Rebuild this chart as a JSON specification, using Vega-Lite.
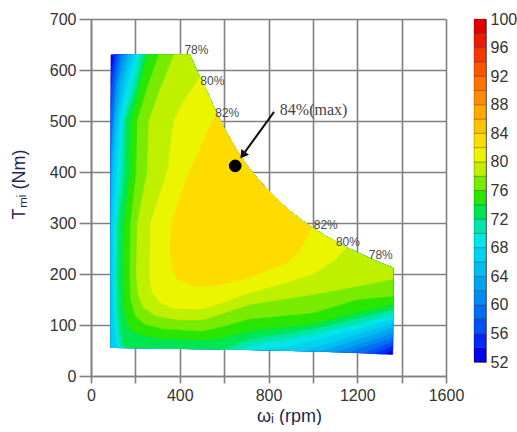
{
"$schema":"https://vega.github.io/schema/vega-lite/v6.json",
"padding":{"left":10,"top":10,"right":0,"bottom":0},
"spacing":28,
"bounds":"flush",
"config":{"view":{"stroke":null},"font":"Liberation Sans"},
"hconcat":[
{
"width":355,"height":357,
"encoding":{
"x":{"field":"x","type":"quantitative","scale":{"domain":[0,1600],"nice":false,"zero":false},
"axis":{"values":[0,200,400,600,800,1000,1200,1400,1600],"format":"d","labelExpr":"datum.value % 400 == 0 ? datum.label : ''","grid":true,"gridColor":"#808080","gridWidth":1.6,"domainColor":"#808080","domainWidth":1.6,"tickColor":"#808080","tickWidth":1.6,"tickSize":7,"labelFontSize":16,"labelColor":"#333333","labelFlush":false,"labelOverlap":false,"labelPadding":4,"title":"ωᵢ  (rpm)","titleX":198,"titleFontSize":18,"titleFontWeight":"normal","titleColor":"#1c2752","titlePadding":4}},
"y":{"field":"y","type":"quantitative","scale":{"domain":[0,700],"nice":false,"zero":false},
"axis":{"values":[0,100,200,300,400,500,600,700],"format":"d","grid":true,"gridColor":"#808080","gridWidth":1.6,"domainColor":"#808080","domainWidth":1.6,"tickColor":"#808080","tickWidth":1.6,"tickSize":12,"labelFontSize":16,"labelColor":"#333333","labelFlush":false,"labelPadding":3,"title":"Tₘᵢ  (Nm)","titleY":165,"titleFontSize":18,"titleFontWeight":"normal","titleColor":"#1c2752","titlePadding":21}}
},
"layer":[
{
"data":{"values":[
{"l":52,"x":90,"y":630},{"l":52,"x":445,"y":630},{"l":52,"x":480,"y":595},{"l":52,"x":520,"y":560},{"l":52,"x":560,"y":520},{"l":52,"x":600,"y":485},{"l":52,"x":650,"y":447},{"l":52,"x":700,"y":414},{"l":52,"x":750,"y":387},{"l":52,"x":800,"y":363},{"l":52,"x":850,"y":341},{"l":52,"x":900,"y":322},{"l":52,"x":950,"y":305},{"l":52,"x":1000,"y":290},{"l":52,"x":1050,"y":276},{"l":52,"x":1100,"y":264},{"l":52,"x":1150,"y":252},{"l":52,"x":1200,"y":242},{"l":52,"x":1250,"y":232},{"l":52,"x":1300,"y":222},{"l":52,"x":1360,"y":212},{"l":52,"x":1360,"y":42},{"l":52,"x":1200,"y":46},{"l":52,"x":1000,"y":49},{"l":52,"x":700,"y":52},{"l":52,"x":90,"y":56},

{"l":54,"x":102,"y":630},{"l":54,"x":445,"y":630},{"l":54,"x":480,"y":595},{"l":54,"x":520,"y":560},{"l":54,"x":560,"y":520},{"l":54,"x":600,"y":485},{"l":54,"x":650,"y":447},{"l":54,"x":700,"y":414},{"l":54,"x":750,"y":387},{"l":54,"x":800,"y":363},{"l":54,"x":850,"y":341},{"l":54,"x":900,"y":322},{"l":54,"x":950,"y":305},{"l":54,"x":1000,"y":290},{"l":54,"x":1050,"y":276},{"l":54,"x":1100,"y":264},{"l":54,"x":1150,"y":252},{"l":54,"x":1200,"y":242},{"l":54,"x":1250,"y":232},{"l":54,"x":1300,"y":222},{"l":54,"x":1360,"y":212},{"l":54,"x":1360,"y":52},{"l":54,"x":1320,"y":43},{"l":54,"x":1200,"y":46},{"l":54,"x":1000,"y":49},{"l":54,"x":700,"y":52},{"l":54,"x":90,"y":56},{"l":54,"x":90,"y":590},

{"l":56,"x":114,"y":630},{"l":56,"x":445,"y":630},{"l":56,"x":480,"y":595},{"l":56,"x":520,"y":560},{"l":56,"x":560,"y":520},{"l":56,"x":600,"y":485},{"l":56,"x":650,"y":447},{"l":56,"x":700,"y":414},{"l":56,"x":750,"y":387},{"l":56,"x":800,"y":363},{"l":56,"x":850,"y":341},{"l":56,"x":900,"y":322},{"l":56,"x":950,"y":305},{"l":56,"x":1000,"y":290},{"l":56,"x":1050,"y":276},{"l":56,"x":1100,"y":264},{"l":56,"x":1150,"y":252},{"l":56,"x":1200,"y":242},{"l":56,"x":1250,"y":232},{"l":56,"x":1300,"y":222},{"l":56,"x":1360,"y":212},{"l":56,"x":1360,"y":60},{"l":56,"x":1320,"y":52},{"l":56,"x":1275,"y":44},{"l":56,"x":1200,"y":46},{"l":56,"x":1000,"y":49},{"l":56,"x":700,"y":52},{"l":56,"x":90,"y":56},{"l":56,"x":90,"y":550},{"l":56,"x":98,"y":590},

{"l":58,"x":126,"y":630},{"l":58,"x":445,"y":630},{"l":58,"x":480,"y":595},{"l":58,"x":520,"y":560},{"l":58,"x":560,"y":520},{"l":58,"x":600,"y":485},{"l":58,"x":650,"y":447},{"l":58,"x":700,"y":414},{"l":58,"x":750,"y":387},{"l":58,"x":800,"y":363},{"l":58,"x":850,"y":341},{"l":58,"x":900,"y":322},{"l":58,"x":950,"y":305},{"l":58,"x":1000,"y":290},{"l":58,"x":1050,"y":276},{"l":58,"x":1100,"y":264},{"l":58,"x":1150,"y":252},{"l":58,"x":1200,"y":242},{"l":58,"x":1250,"y":232},{"l":58,"x":1300,"y":222},{"l":58,"x":1360,"y":212},{"l":58,"x":1360,"y":68},{"l":58,"x":1290,"y":56},{"l":58,"x":1225,"y":45},{"l":58,"x":1200,"y":46},{"l":58,"x":1000,"y":49},{"l":58,"x":700,"y":52},{"l":58,"x":90,"y":56},{"l":58,"x":90,"y":500},{"l":58,"x":95,"y":530},{"l":58,"x":105,"y":580},

{"l":60,"x":138,"y":630},{"l":60,"x":445,"y":630},{"l":60,"x":480,"y":595},{"l":60,"x":520,"y":560},{"l":60,"x":560,"y":520},{"l":60,"x":600,"y":485},{"l":60,"x":650,"y":447},{"l":60,"x":700,"y":414},{"l":60,"x":750,"y":387},{"l":60,"x":800,"y":363},{"l":60,"x":850,"y":341},{"l":60,"x":900,"y":322},{"l":60,"x":950,"y":305},{"l":60,"x":1000,"y":290},{"l":60,"x":1050,"y":276},{"l":60,"x":1100,"y":264},{"l":60,"x":1150,"y":252},{"l":60,"x":1200,"y":242},{"l":60,"x":1250,"y":232},{"l":60,"x":1300,"y":222},{"l":60,"x":1360,"y":212},{"l":60,"x":1360,"y":76},{"l":60,"x":1290,"y":65},{"l":60,"x":1200,"y":54},{"l":60,"x":1170,"y":46.5},{"l":60,"x":1000,"y":49},{"l":60,"x":700,"y":52},{"l":60,"x":90,"y":56},{"l":60,"x":90,"y":450},{"l":60,"x":100,"y":500},{"l":60,"x":112,"y":570},

{"l":62,"x":152,"y":630},{"l":62,"x":445,"y":630},{"l":62,"x":480,"y":595},{"l":62,"x":520,"y":560},{"l":62,"x":560,"y":520},{"l":62,"x":600,"y":485},{"l":62,"x":650,"y":447},{"l":62,"x":700,"y":414},{"l":62,"x":750,"y":387},{"l":62,"x":800,"y":363},{"l":62,"x":850,"y":341},{"l":62,"x":900,"y":322},{"l":62,"x":950,"y":305},{"l":62,"x":1000,"y":290},{"l":62,"x":1050,"y":276},{"l":62,"x":1100,"y":264},{"l":62,"x":1150,"y":252},{"l":62,"x":1200,"y":242},{"l":62,"x":1250,"y":232},{"l":62,"x":1300,"y":222},{"l":62,"x":1360,"y":212},{"l":62,"x":1360,"y":85},{"l":62,"x":1290,"y":74},{"l":62,"x":1200,"y":62},{"l":62,"x":1100,"y":47.5},{"l":62,"x":1000,"y":49},{"l":62,"x":700,"y":52},{"l":62,"x":90,"y":56},{"l":62,"x":90,"y":390},{"l":62,"x":93,"y":430},{"l":62,"x":102,"y":500},{"l":62,"x":120,"y":570},

{"l":64,"x":168,"y":630},{"l":64,"x":445,"y":630},{"l":64,"x":480,"y":595},{"l":64,"x":520,"y":560},{"l":64,"x":560,"y":520},{"l":64,"x":600,"y":485},{"l":64,"x":650,"y":447},{"l":64,"x":700,"y":414},{"l":64,"x":750,"y":387},{"l":64,"x":800,"y":363},{"l":64,"x":850,"y":341},{"l":64,"x":900,"y":322},{"l":64,"x":950,"y":305},{"l":64,"x":1000,"y":290},{"l":64,"x":1050,"y":276},{"l":64,"x":1100,"y":264},{"l":64,"x":1150,"y":252},{"l":64,"x":1200,"y":242},{"l":64,"x":1250,"y":232},{"l":64,"x":1300,"y":222},{"l":64,"x":1360,"y":212},{"l":64,"x":1360,"y":95},{"l":64,"x":1290,"y":84},{"l":64,"x":1200,"y":72},{"l":64,"x":1100,"y":58},{"l":64,"x":1030,"y":48.5},{"l":64,"x":700,"y":52},{"l":64,"x":90,"y":56},{"l":64,"x":90,"y":330},{"l":64,"x":92,"y":360},{"l":64,"x":97,"y":420},{"l":64,"x":111,"y":500},{"l":64,"x":135,"y":570},

{"l":66,"x":185,"y":630},{"l":66,"x":445,"y":630},{"l":66,"x":480,"y":595},{"l":66,"x":520,"y":560},{"l":66,"x":560,"y":520},{"l":66,"x":600,"y":485},{"l":66,"x":650,"y":447},{"l":66,"x":700,"y":414},{"l":66,"x":750,"y":387},{"l":66,"x":800,"y":363},{"l":66,"x":850,"y":341},{"l":66,"x":900,"y":322},{"l":66,"x":950,"y":305},{"l":66,"x":1000,"y":290},{"l":66,"x":1050,"y":276},{"l":66,"x":1100,"y":264},{"l":66,"x":1150,"y":252},{"l":66,"x":1200,"y":242},{"l":66,"x":1250,"y":232},{"l":66,"x":1300,"y":222},{"l":66,"x":1360,"y":212},{"l":66,"x":1360,"y":104},{"l":66,"x":1290,"y":93},{"l":66,"x":1200,"y":82},{"l":66,"x":1100,"y":68},{"l":66,"x":1000,"y":56},{"l":66,"x":950,"y":49.5},{"l":66,"x":700,"y":52},{"l":66,"x":90,"y":56},{"l":66,"x":90,"y":260},{"l":66,"x":93,"y":300},{"l":66,"x":103,"y":400},{"l":66,"x":122,"y":500},{"l":66,"x":148,"y":565},

{"l":68,"x":203,"y":630},{"l":68,"x":160,"y":560},{"l":68,"x":134,"y":500},{"l":68,"x":118,"y":400},{"l":68,"x":105,"y":300},{"l":68,"x":102,"y":200},{"l":68,"x":104,"y":120},{"l":68,"x":110,"y":80},{"l":68,"x":120,"y":56},{"l":68,"x":700,"y":52},{"l":68,"x":760,"y":51.4},{"l":68,"x":900,"y":60},{"l":68,"x":1000,"y":70},{"l":68,"x":1200,"y":92},{"l":68,"x":1360,"y":112},{"l":68,"x":1360,"y":212},{"l":68,"x":1300,"y":222},{"l":68,"x":1250,"y":232},{"l":68,"x":1200,"y":242},{"l":68,"x":1150,"y":252},{"l":68,"x":1100,"y":264},{"l":68,"x":1050,"y":276},{"l":68,"x":1000,"y":290},{"l":68,"x":950,"y":305},{"l":68,"x":900,"y":322},{"l":68,"x":850,"y":341},{"l":68,"x":800,"y":363},{"l":68,"x":750,"y":387},{"l":68,"x":700,"y":414},{"l":68,"x":650,"y":447},{"l":68,"x":600,"y":485},{"l":68,"x":560,"y":520},{"l":68,"x":520,"y":560},{"l":68,"x":480,"y":595},{"l":68,"x":445,"y":630},

{"l":70,"x":220,"y":630},{"l":70,"x":180,"y":560},{"l":70,"x":145,"y":500},{"l":70,"x":135,"y":400},{"l":70,"x":115,"y":300},{"l":70,"x":112,"y":200},{"l":70,"x":115,"y":125},{"l":70,"x":122,"y":85},{"l":70,"x":135,"y":56},{"l":70,"x":680,"y":52.1},{"l":70,"x":712,"y":60},{"l":70,"x":850,"y":70},{"l":70,"x":1000,"y":82},{"l":70,"x":1200,"y":102},{"l":70,"x":1360,"y":120},{"l":70,"x":1360,"y":212},{"l":70,"x":1300,"y":222},{"l":70,"x":1250,"y":232},{"l":70,"x":1200,"y":242},{"l":70,"x":1150,"y":252},{"l":70,"x":1100,"y":264},{"l":70,"x":1050,"y":276},{"l":70,"x":1000,"y":290},{"l":70,"x":950,"y":305},{"l":70,"x":900,"y":322},{"l":70,"x":850,"y":341},{"l":70,"x":800,"y":363},{"l":70,"x":750,"y":387},{"l":70,"x":700,"y":414},{"l":70,"x":650,"y":447},{"l":70,"x":600,"y":485},{"l":70,"x":560,"y":520},{"l":70,"x":520,"y":560},{"l":70,"x":480,"y":595},{"l":70,"x":445,"y":630},

{"l":72,"x":237,"y":630},{"l":72,"x":200,"y":560},{"l":72,"x":156,"y":500},{"l":72,"x":150,"y":400},{"l":72,"x":126,"y":300},{"l":72,"x":122,"y":200},{"l":72,"x":126,"y":125},{"l":72,"x":135,"y":85},{"l":72,"x":150,"y":56},{"l":72,"x":600,"y":52.7},{"l":72,"x":712,"y":72},{"l":72,"x":850,"y":82},{"l":72,"x":1000,"y":92},{"l":72,"x":1200,"y":113},{"l":72,"x":1360,"y":130},{"l":72,"x":1360,"y":212},{"l":72,"x":1300,"y":222},{"l":72,"x":1250,"y":232},{"l":72,"x":1200,"y":242},{"l":72,"x":1150,"y":252},{"l":72,"x":1100,"y":264},{"l":72,"x":1050,"y":276},{"l":72,"x":1000,"y":290},{"l":72,"x":950,"y":305},{"l":72,"x":900,"y":322},{"l":72,"x":850,"y":341},{"l":72,"x":800,"y":363},{"l":72,"x":750,"y":387},{"l":72,"x":700,"y":414},{"l":72,"x":650,"y":447},{"l":72,"x":600,"y":485},{"l":72,"x":560,"y":520},{"l":72,"x":520,"y":560},{"l":72,"x":480,"y":595},{"l":72,"x":445,"y":630},

{"l":74,"x":252,"y":630},{"l":74,"x":215,"y":560},{"l":74,"x":179,"y":500},{"l":74,"x":175,"y":400},{"l":74,"x":150,"y":300},{"l":74,"x":145,"y":200},{"l":74,"x":148,"y":140},{"l":74,"x":160,"y":105},{"l":74,"x":190,"y":85},{"l":74,"x":300,"y":74},{"l":74,"x":500,"y":70},{"l":74,"x":600,"y":75},{"l":74,"x":712,"y":88},{"l":74,"x":850,"y":95},{"l":74,"x":1000,"y":102},{"l":74,"x":1200,"y":125},{"l":74,"x":1360,"y":140},{"l":74,"x":1360,"y":212},{"l":74,"x":1300,"y":222},{"l":74,"x":1250,"y":232},{"l":74,"x":1200,"y":242},{"l":74,"x":1150,"y":252},{"l":74,"x":1100,"y":264},{"l":74,"x":1050,"y":276},{"l":74,"x":1000,"y":290},{"l":74,"x":950,"y":305},{"l":74,"x":900,"y":322},{"l":74,"x":850,"y":341},{"l":74,"x":800,"y":363},{"l":74,"x":750,"y":387},{"l":74,"x":700,"y":414},{"l":74,"x":650,"y":447},{"l":74,"x":600,"y":485},{"l":74,"x":560,"y":520},{"l":74,"x":520,"y":560},{"l":74,"x":480,"y":595},{"l":74,"x":445,"y":630},

{"l":76,"x":306,"y":630},{"l":76,"x":250,"y":560},{"l":76,"x":209,"y":500},{"l":76,"x":205,"y":400},{"l":76,"x":179,"y":300},{"l":76,"x":175,"y":200},{"l":76,"x":180,"y":150},{"l":76,"x":200,"y":118},{"l":76,"x":240,"y":102},{"l":76,"x":320,"y":93},{"l":76,"x":500,"y":88},{"l":76,"x":600,"y":98},{"l":76,"x":712,"y":112},{"l":76,"x":1000,"y":124},{"l":76,"x":1200,"y":150},{"l":76,"x":1360,"y":157},{"l":76,"x":1360,"y":212},{"l":76,"x":1300,"y":222},{"l":76,"x":1250,"y":232},{"l":76,"x":1200,"y":242},{"l":76,"x":1150,"y":252},{"l":76,"x":1100,"y":264},{"l":76,"x":1050,"y":276},{"l":76,"x":1000,"y":290},{"l":76,"x":950,"y":305},{"l":76,"x":900,"y":322},{"l":76,"x":850,"y":341},{"l":76,"x":800,"y":363},{"l":76,"x":750,"y":387},{"l":76,"x":700,"y":414},{"l":76,"x":650,"y":447},{"l":76,"x":600,"y":485},{"l":76,"x":560,"y":520},{"l":76,"x":520,"y":560},{"l":76,"x":480,"y":595},{"l":76,"x":445,"y":630},

{"l":78,"x":374,"y":630},{"l":78,"x":310,"y":560},{"l":78,"x":261,"y":500},{"l":78,"x":254,"y":400},{"l":78,"x":209,"y":300},{"l":78,"x":205,"y":200},{"l":78,"x":212,"y":160},{"l":78,"x":235,"y":135},{"l":78,"x":290,"y":118},{"l":78,"x":400,"y":110},{"l":78,"x":500,"y":110},{"l":78,"x":600,"y":124},{"l":78,"x":712,"y":140},{"l":78,"x":1000,"y":160},{"l":78,"x":1200,"y":176},{"l":78,"x":1360,"y":190},{"l":78,"x":1360,"y":212},{"l":78,"x":1300,"y":222},{"l":78,"x":1250,"y":232},{"l":78,"x":1200,"y":242},{"l":78,"x":1150,"y":252},{"l":78,"x":1100,"y":264},{"l":78,"x":1050,"y":276},{"l":78,"x":1000,"y":290},{"l":78,"x":950,"y":305},{"l":78,"x":900,"y":322},{"l":78,"x":850,"y":341},{"l":78,"x":800,"y":363},{"l":78,"x":750,"y":387},{"l":78,"x":700,"y":414},{"l":78,"x":650,"y":447},{"l":78,"x":600,"y":485},{"l":78,"x":560,"y":520},{"l":78,"x":520,"y":560},{"l":78,"x":480,"y":595},{"l":78,"x":445,"y":630},

{"l":80,"x":495,"y":588},{"l":80,"x":420,"y":540},{"l":80,"x":374,"y":500},{"l":80,"x":344,"y":400},{"l":80,"x":269,"y":300},{"l":80,"x":265,"y":200},{"l":80,"x":275,"y":165},{"l":80,"x":310,"y":145},{"l":80,"x":370,"y":133},{"l":80,"x":500,"y":132},{"l":80,"x":600,"y":145},{"l":80,"x":712,"y":163},{"l":80,"x":850,"y":180},{"l":80,"x":1000,"y":200},{"l":80,"x":1100,"y":228},{"l":80,"x":1150,"y":252},{"l":80,"x":1100,"y":264},{"l":80,"x":1050,"y":276},{"l":80,"x":1000,"y":290},{"l":80,"x":950,"y":305},{"l":80,"x":900,"y":322},{"l":80,"x":850,"y":341},{"l":80,"x":800,"y":363},{"l":80,"x":750,"y":387},{"l":80,"x":700,"y":414},{"l":80,"x":650,"y":447},{"l":80,"x":600,"y":485},{"l":80,"x":560,"y":520},{"l":80,"x":520,"y":560},

{"l":82,"x":565,"y":516},{"l":82,"x":500,"y":455},{"l":82,"x":442,"y":400},{"l":82,"x":400,"y":350},{"l":82,"x":362,"y":300},{"l":82,"x":358,"y":250},{"l":82,"x":362,"y":215},{"l":82,"x":385,"y":190},{"l":82,"x":450,"y":178},{"l":82,"x":550,"y":176},{"l":82,"x":712,"y":192},{"l":82,"x":800,"y":208},{"l":82,"x":890,"y":222},{"l":82,"x":950,"y":252},{"l":82,"x":996,"y":291},{"l":82,"x":950,"y":305},{"l":82,"x":900,"y":322},{"l":82,"x":850,"y":341},{"l":82,"x":800,"y":363},{"l":82,"x":750,"y":387},{"l":82,"x":700,"y":414},{"l":82,"x":650,"y":447},{"l":82,"x":600,"y":485}
]},
"mark":{"type":"line","interpolate":"linear-closed","strokeWidth":0.6},
"encoding":{
"detail":{"field":"l"},
"order":{"value":null},
"fill":{"field":"l","type":"ordinal","legend":null,"scale":{"domain":[52,54,56,58,60,62,64,66,68,70,72,74,76,78,80,82,84,86,88,90,92,94,96,98],"range":["#0000f0","#0028f5","#0050f5","#0070f0","#008cf0","#00a5f0","#00bef0","#00d2f0","#00e6e6","#00e6aa","#00e650","#28e600","#78eb00","#bef000","#ecf500","#ffdc00","#ffc300","#ffaa00","#ff8c00","#ff7300","#ff5500","#f53700","#eb1900","#e10000"]}},
"stroke":{"field":"l","type":"ordinal","legend":null,"scale":{"domain":[52,54,56,58,60,62,64,66,68,70,72,74,76,78,80,82,84,86,88,90,92,94,96,98],"range":["#0000f0","#0028f5","#0050f5","#0070f0","#008cf0","#00a5f0","#00bef0","#00d2f0","#00e6e6","#00e6aa","#00e650","#28e600","#78eb00","#bef000","#ecf500","#ffdc00","#ffc300","#ffaa00","#ff8c00","#ff7300","#ff5500","#f53700","#eb1900","#e10000"]}}
}
},
{
"data":{"values":[{"x":825,"y":518,"x2":690,"y2":437}]},
"mark":{"type":"rule","color":"#111","strokeWidth":2},
"encoding":{"x2":{"field":"x2"},"y2":{"field":"y2"}}
},
{
"data":{"values":[{"x":684,"y":433}]},
"mark":{"type":"point","shape":"triangle-up","filled":true,"color":"#111","size":90,"angle":216,"opacity":1},
"encoding":{}
},
{
"data":{"values":[{"x":650,"y":412}]},
"mark":{"type":"point","shape":"circle","filled":true,"color":"#000","size":160,"opacity":1},
"encoding":{}
},
{
"data":{"values":[{"t":"78%","x":475,"y":639},{"t":"80%","x":547,"y":578},{"t":"82%","x":614,"y":516},{"t":"82%","x":1058,"y":297},{"t":"80%","x":1158,"y":263},{"t":"78%","x":1306,"y":237}]},
"mark":{"type":"text","font":"Liberation Sans","fontSize":12,"color":"#4a4a4a","align":"center","baseline":"middle"},
"encoding":{"text":{"field":"t"}}
},
{
"data":{"values":[{"t":"84%(max)","x":851,"y":521}]},
"mark":{"type":"text","font":"Liberation Serif","fontSize":16,"color":"#444","align":"left","baseline":"middle"},
"encoding":{"text":{"field":"t"}}
}
]
},
{
"width":12,"height":343,
"view":{"stroke":"#777","strokeWidth":1},
"data":{"values":[{"l":52,"h":54},{"l":54,"h":56},{"l":56,"h":58},{"l":58,"h":60},{"l":60,"h":62},{"l":62,"h":64},{"l":64,"h":66},{"l":66,"h":68},{"l":68,"h":70},{"l":70,"h":72},{"l":72,"h":74},{"l":74,"h":76},{"l":76,"h":78},{"l":78,"h":80},{"l":80,"h":82},{"l":82,"h":84},{"l":84,"h":86},{"l":86,"h":88},{"l":88,"h":90},{"l":90,"h":92},{"l":92,"h":94},{"l":94,"h":96},{"l":96,"h":98},{"l":98,"h":100}]},
"mark":{"type":"rect","stroke":"#000","strokeOpacity":0.3,"strokeWidth":0.8},
"encoding":{
"y":{"field":"l","type":"quantitative","scale":{"domain":[52,100],"nice":false,"zero":false},"axis":{"orient":"right","values":[52,56,60,64,68,72,76,80,84,88,92,96,100],"ticks":false,"domain":false,"grid":false,"title":null,"labelFontSize":16,"labelColor":"#333333","labelPadding":4,"labelFlush":false,"labelOverlap":false}},
"y2":{"field":"h"},
"fill":{"field":"l","type":"ordinal","legend":null,"scale":{"domain":[52,54,56,58,60,62,64,66,68,70,72,74,76,78,80,82,84,86,88,90,92,94,96,98],"range":["#0000f0","#0028f5","#0050f5","#0070f0","#008cf0","#00a5f0","#00bef0","#00d2f0","#00e6e6","#00e6aa","#00e650","#28e600","#78eb00","#bef000","#ecf500","#ffdc00","#ffc300","#ffaa00","#ff8c00","#ff7300","#ff5500","#f53700","#eb1900","#e10000"]}}
}
}
]
}
